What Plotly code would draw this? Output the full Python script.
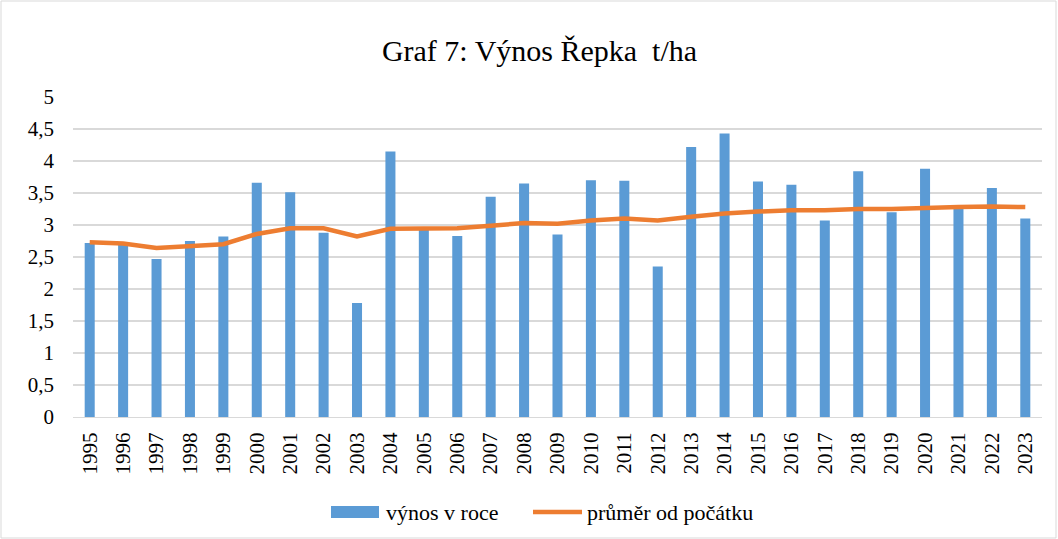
import plotly.graph_objects as go

years = [str(y) for y in range(1995, 2024)]
vynos = [2.72, 2.70, 2.47, 2.75, 2.82, 3.66, 3.51, 2.88, 1.78, 4.15,
         2.96, 2.83, 3.44, 3.65, 2.85, 3.70, 3.69, 2.35, 4.22, 4.43,
         3.68, 3.63, 3.07, 3.84, 3.20, 3.88, 3.25, 3.58, 3.10]
prumer = [2.73, 2.71, 2.64, 2.67, 2.70, 2.86, 2.95, 2.95, 2.82, 2.94,
          2.95, 2.95, 2.99, 3.03, 3.02, 3.07, 3.10, 3.07, 3.13, 3.18,
          3.21, 3.23, 3.23, 3.25, 3.25, 3.27, 3.28, 3.29, 3.28]
yticks = [0, 0.5, 1, 1.5, 2, 2.5, 3, 3.5, 4, 4.5, 5]
series_names = ["výnos v roce", "průměr od počátku"]
title_text = "Graf 7: Výnos Řepka\u00a0\u00a0t/ha"
bar_color = "#5b9bd5"
line_color = "#ed7d31"

font = "Liberation Serif"
W, H = 1058, 539
L, R, T, B = 73, 16, 97, 122
pw, ph = W - L - R, H - T - B

fig = go.Figure()
fig.add_trace(go.Bar(x=years, y=vynos, name=series_names[0],
                     marker=dict(color=bar_color, line=dict(width=0)),
                     width=0.3, showlegend=False))
fig.add_trace(go.Scatter(x=years, y=prumer, name=series_names[1],
                         mode="lines", line=dict(color=line_color, width=4.5),
                         showlegend=False))

def px(x):
    return (x - L) / pw

def py(y):
    return (H - B - y) / ph

fig.update_layout(
    width=W, height=H,
    paper_bgcolor="white", plot_bgcolor="white",
    separators=", ",
    margin=dict(l=L, r=R, t=T, b=B, autoexpand=False),
    title=dict(text=title_text, xref="container", x=539.5 / W, xanchor="center",
               y=1 - 50 / H, yanchor="middle",
               font=dict(family=font, size=30, color="#000000")),
    font=dict(family=font, size=21, color="#000000"),
    showlegend=False,
    bargap=0.7,
)
fig.update_xaxes(tickangle=-90, showgrid=False, showline=True, linecolor="#d9d9d9",
                 linewidth=1, ticks="", automargin=False, ticklabelstandoff=6,
                 tickfont=dict(family=font, size=21, color="#000000"))
fig.update_yaxes(range=[0, 5], tickvals=yticks, showgrid=True, gridcolor="#d9d9d9",
                 gridwidth=1.5, zeroline=False, showline=False, ticks="",
                 ticklabelstandoff=18, automargin=False,
                 tickfont=dict(family=font, size=21, color="#000000"))
# outer border
fig.add_shape(type="rect", xref="paper", yref="paper", x0=px(1), x1=px(W - 2),
              y0=py(H - 1), y1=py(1), line=dict(color="#d9d9d9", width=1))
# custom legend
fig.add_shape(type="rect", xref="paper", yref="paper", x0=px(331), x1=px(379),
              y0=py(518), y1=py(506), fillcolor=bar_color, line=dict(width=0))
fig.add_shape(type="line", xref="paper", yref="paper", x0=px(533), x1=px(582),
              y0=py(512), y1=py(512), line=dict(color=line_color, width=4.5))
fig.add_annotation(text=series_names[0], xref="paper", yref="paper", x=px(384), y=py(512),
                   xanchor="left", yanchor="middle", showarrow=False,
                   font=dict(family=font, size=22, color="#000000"))
fig.add_annotation(text=series_names[1], xref="paper", yref="paper", x=px(585), y=py(512),
                   xanchor="left", yanchor="middle", showarrow=False,
                   font=dict(family=font, size=22, color="#000000"))

fig.write_html("out.html", config={"displayModeBar": False},
               post_script="document.body.style.margin='0';")
